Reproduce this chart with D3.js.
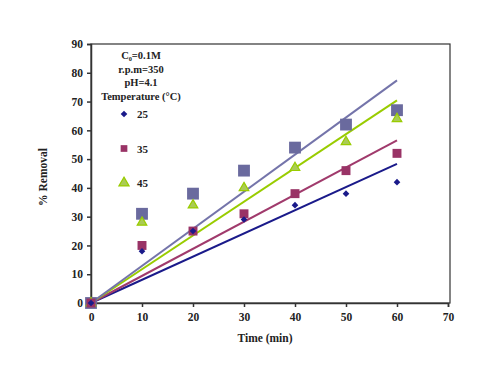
<!DOCTYPE html>
<html><head><meta charset="utf-8">
<script src="https://cdn.jsdelivr.net/npm/d3@7"></script>
<style>body{margin:0;background:#fff}</style>
</head><body><svg id="c" width="500" height="375"></svg>
<script>
const times = [0, 10, 20, 30, 40, 50, 60];
const s25 = [0, 18, 25, 29, 34, 38, 42];
const s35 = [0, 20, 25, 31, 38, 46, 52];
const s45 = [0, 28, 34, 40, 47, 56, 64];
const s55 = [0, 31, 38, 46, 54, 62, 67];
const xTicks = [0, 10, 20, 30, 40, 50, 60, 70];
const yTicks = [0, 10, 20, 30, 40, 50, 60, 70, 80, 90];
const legendInfo = ["C\u2080=0.1M", "r.p.m=350", "pH=4.1", "Temperature (\u00B0C)"];
const legendLabels = ["25", "35", "45"];

const FONT = "'Liberation Serif', 'Times New Roman', serif";
const diamond = {draw(ctx, size) { const r = Math.sqrt(size / 2); ctx.moveTo(0, -r); ctx.lineTo(r, 0); ctx.lineTo(0, r); ctx.lineTo(-r, 0); ctx.closePath(); }};

const series = [
  {vals: s25, color: "#1a1a8a", line: "#1a1a8a", sym: diamond, size: 22},
  {vals: s35, color: "#993366", line: "#a03a6c", sym: d3.symbolSquare, size: 80},
  {vals: s45, color: "#aacb55", line: "#99cc00", sym: d3.symbolTriangle, size: 40, stroke: "#99cc00"},
  {vals: s55, color: "#6a6a9e", line: "#7474aa", sym: d3.symbolSquare, size: 140}
];

const svg = d3.select("#c");
const L = 91, R = 448, T = 44, B = 303;
const x = d3.scaleLinear().domain([0, 70]).range([L, R]);
const y = d3.scaleLinear().domain([0, 90]).range([B, T]);

svg.append("rect").attr("x", L).attr("y", T).attr("width", R - L + 2).attr("height", B - T)
  .attr("fill", "none").attr("stroke", "#333").attr("stroke-width", 1.2);

const ya = svg.append("g").attr("transform", `translate(${L},0)`)
  .call(d3.axisLeft(y).tickValues(yTicks).tickSize(4).tickPadding(4));
const xa = svg.append("g").attr("transform", `translate(0,${B})`)
  .call(d3.axisBottom(x).tickValues(xTicks).tickSize(4).tickPadding(6));
[ya, xa].forEach(a => {
  a.attr("font-family", null).attr("font-size", null);
  a.selectAll("path,line").attr("stroke", "#333").attr("stroke-width", 1.5);
  a.selectAll("text").style("font-family", FONT).style("font-weight", "bold").style("font-size", "11.5px").attr("fill", "#222");
});

series.forEach(s => {
  let sxy = 0, sxx = 0;
  times.forEach((t, i) => { sxy += t * s.vals[i]; sxx += t * t; });
  const k = sxy / sxx;
  const tMax = d3.max(times);
  svg.append("line").attr("x1", x(0)).attr("y1", y(0)).attr("x2", x(tMax)).attr("y2", y(k * tMax))
    .attr("stroke", s.line).attr("stroke-width", 2);
});

[3, 2, 1, 0].forEach(j => {
  const s = series[j];
  svg.append("g").selectAll("path").data(times).join("path")
    .attr("transform", (t, i) => `translate(${x(t)},${y(s.vals[i])})`)
    .attr("d", d3.symbol(s.sym, s.size))
    .attr("fill", s.color).attr("stroke", s.stroke || "none").attr("stroke-width", 1.2);
});

function txt(sel) { return sel.style("font-family", FONT).style("font-weight", "bold").attr("fill", "#222"); }

const lx = 141;
legendInfo.forEach((t, i) => {
  txt(svg.append("text")).attr("x", lx).attr("y", 59 + i * 13.5).attr("text-anchor", "middle")
    .style("font-size", "10.5px").text(t);
});
legendLabels.forEach((t, i) => {
  const yy = 114 + i * 34.5;
  const s = series[i];
  svg.append("path").attr("transform", `translate(124,${yy})`)
    .attr("d", d3.symbol(s.sym, i === 0 ? 22 : 45)).attr("fill", s.color).attr("stroke", s.stroke || "none").attr("stroke-width", 1.2);
  txt(svg.append("text")).attr("x", 137).attr("y", yy + 4).style("font-size", "11px").text(t);
});

txt(svg.append("text")).attr("x", 265).attr("y", 342).attr("text-anchor", "middle").style("font-size", "11.5px").text("Time (min)");
txt(svg.append("text")).attr("transform", "translate(47,177) rotate(-90)").attr("text-anchor", "middle").style("font-size", "11.5px").text("% Removal");
</script></body></html>
